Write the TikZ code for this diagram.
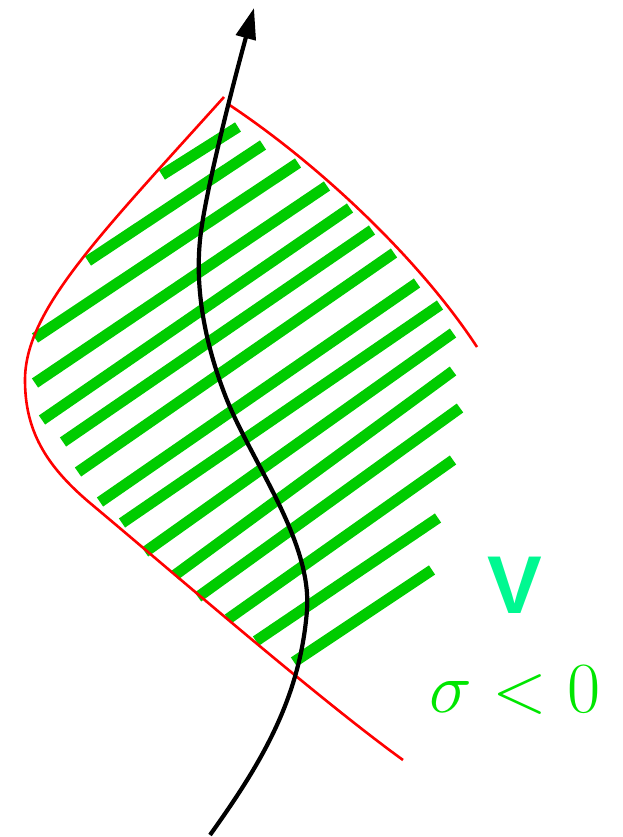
\RequirePackage{fix-cm}
\documentclass[tikz,border=0pt]{standalone}
\usepackage{fontspec}
\newfontfamily\vfont{Liberation Sans}
\usetikzlibrary{arrows.meta}
\definecolor{bargreen}{RGB}{0,204,0}
\definecolor{textgreen}{RGB}{0,230,0}
\definecolor{vgreen}{RGB}{0,248,145}
\definecolor{redline}{RGB}{255,0,0}
\tikzset{
  bar/.style={draw=bargreen, line width=11pt, line cap=butt},
  boundary/.style={draw=redline, line width=2.6pt},
  worldline/.style={draw=black, line width=4.2pt, -{Triangle[length=31pt,width=20pt]}},
}
\begin{document}
\begin{tikzpicture}[x=1pt,y=-1pt]
\useasboundingbox (0,0) rectangle (623,837);
% hatching bars
\foreach \ax/\ay/\bx/\by in {
  162/175/238/127,
  88/261/263/145,
  35/338/298/163,
  35/383/327/186,
  42/420/350/208,
  63/442/372/230,
  78/472/394/253,
  100/502/417/283,
  122/523/440/305,
  145/552/453/333,
  175/575/453/371,
  198/597/460/408,
  228/619/453/460,
  256/641/438/518,
  294/662/432/570}{
  \draw[bar] (\ax,\ay) -- (\bx,\by);
}
% red boundaries
\coordinate (lt) at (224,97);
\coordinate (lm) at (25,380);
\coordinate (lk) at (90,503);
\coordinate (lb) at (403,760);
\draw[boundary] (lt) .. controls (100,235) and (25,310) .. (lm)
  .. controls (25,430) and (45,465) .. (lk)
  .. controls (170,570) and (320,700) .. (lb);
\coordinate (rt) at (228,104);
\coordinate (rb) at (477,347);
\draw[boundary] (rt) .. controls (320,165) and (420,260) .. (rb);
% world line
\coordinate (w0) at (210,835);
\coordinate (w1) at (307,610);
\coordinate (w2) at (225,395);
\coordinate (w3) at (200,240);
\coordinate (w4) at (254,8);
\draw[worldline] (w0) .. controls (260,765) and (300,700) .. (w1)
  .. controls (312,540) and (250,460) .. (w2)
  .. controls (205,343) and (195,290) .. (w3)
  .. controls (205,190) and (238,66) .. (w4);
% labels
\node[text=vgreen, inner sep=0pt, anchor=base] (vlabel) at (515,613)
  {\fontsize{82}{90}\selectfont\vfont\bfseries V};
\node[text=textgreen, inner sep=0pt, anchor=base] (siglabel) at (515,712)
  {\fontsize{72}{80}\selectfont$\sigma<0$};
\end{tikzpicture}
\end{document}
